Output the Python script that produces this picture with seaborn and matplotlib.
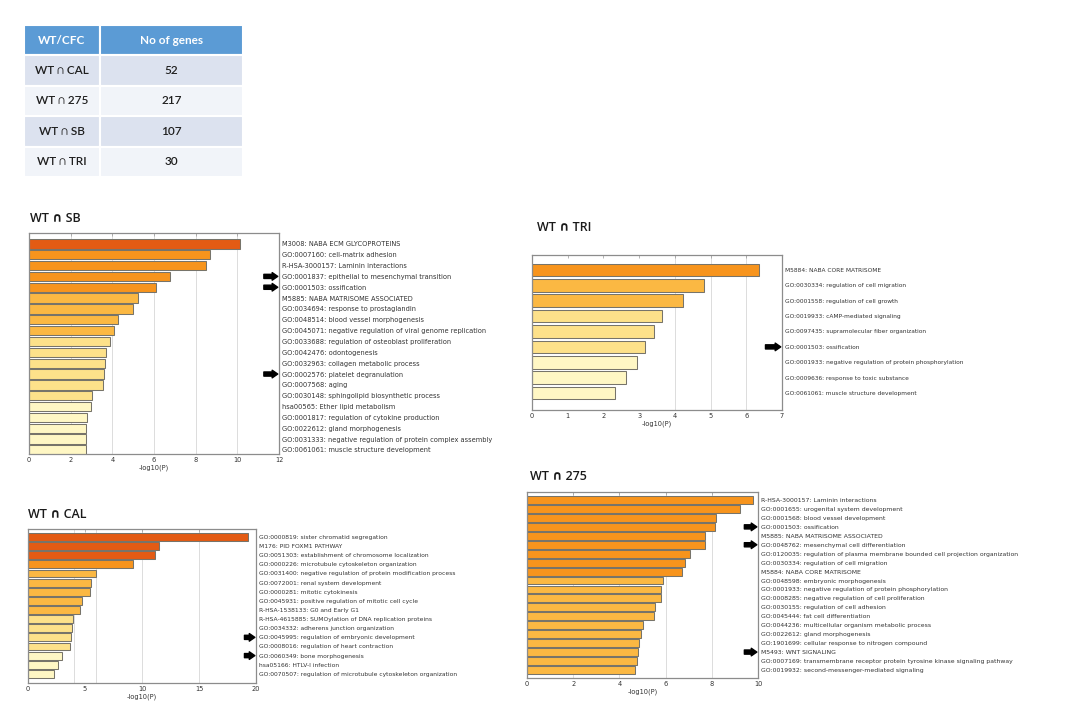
import matplotlib
matplotlib.use('Agg')
import matplotlib.pyplot as plt
import seaborn as sns
import pandas as pd

W, H = 1082, 702

# summary table
table_rows = ['WT ∩ CAL', 'WT ∩ 275', 'WT ∩ SB', 'WT ∩ TRI']
table_counts = [52, 217, 107, 30]

# WT ∩ SB enrichment
sb_terms = ['M3008: NABA ECM GLYCOPROTEINS',
            'GO:0007160: cell-matrix adhesion',
            'R-HSA-3000157: Laminin interactions',
            'GO:0001837: epithelial to mesenchymal transition',
            'GO:0001503: ossification',
            'M5885: NABA MATRISOME ASSOCIATED',
            'GO:0034694: response to prostaglandin',
            'GO:0048514: blood vessel morphogenesis',
            'GO:0045071: negative regulation of viral genome replication',
            'GO:0033688: regulation of osteoblast proliferation',
            'GO:0042476: odontogenesis',
            'GO:0032963: collagen metabolic process',
            'GO:0002576: platelet degranulation',
            'GO:0007568: aging',
            'GO:0030148: sphingolipid biosynthetic process',
            'hsa00565: Ether lipid metabolism',
            'GO:0001817: regulation of cytokine production',
            'GO:0022612: gland morphogenesis',
            'GO:0031333: negative regulation of protein complex assembly',
            'GO:0061061: muscle structure development']
sb_values = [10.14, 8.70, 8.48, 6.75, 6.11, 5.25, 5.00, 4.29, 4.06, 3.87,
             3.71, 3.63, 3.58, 3.55, 3.02, 2.97, 2.78, 2.72, 2.72, 2.72]
sb_marked = [3, 4, 12]

# WT ∩ TRI enrichment
tri_terms = ['M5884: NABA CORE MATRISOME',
             'GO:0030334: regulation of cell migration',
             'GO:0001558: regulation of cell growth',
             'GO:0019933: cAMP-mediated signaling',
             'GO:0097435: supramolecular fiber organization',
             'GO:0001503: ossification',
             'GO:0001933: negative regulation of protein phosphorylation',
             'GO:0009636: response to toxic substance',
             'GO:0061061: muscle structure development']
tri_values = [6.35, 4.82, 4.22, 3.65, 3.41, 3.17, 2.95, 2.64, 2.32]
tri_marked = [5]

# WT ∩ CAL enrichment
cal_terms = ['GO:0000819: sister chromatid segregation',
             'M176: PID FOXM1 PATHWAY',
             'GO:0051303: establishment of chromosome localization',
             'GO:0000226: microtubule cytoskeleton organization',
             'GO:0031400: negative regulation of protein modification process',
             'GO:0072001: renal system development',
             'GO:0000281: mitotic cytokinesis',
             'GO:0045931: positive regulation of mitotic cell cycle',
             'R-HSA-1538133: G0 and Early G1',
             'R-HSA-4615885: SUMOylation of DNA replication proteins',
             'GO:0034332: adherens junction organization',
             'GO:0045995: regulation of embryonic development',
             'GO:0008016: regulation of heart contraction',
             'GO:0060349: bone morphogenesis',
             'hsa05166: HTLV-I infection',
             'GO:0070507: regulation of microtubule cytoskeleton organization']
cal_values = [19.33, 11.52, 11.14, 9.21, 5.96, 5.53, 5.44, 4.77, 4.56, 3.92,
              3.83, 3.77, 3.71, 2.98, 2.60, 2.25]
cal_marked = [11, 13]

# WT ∩ 275 enrichment
t275_terms = ['R-HSA-3000157: Laminin interactions',
              'GO:0001655: urogenital system development',
              'GO:0001568: blood vessel development',
              'GO:0001503: ossification',
              'M5885: NABA MATRISOME ASSOCIATED',
              'GO:0048762: mesenchymal cell differentiation',
              'GO:0120035: regulation of plasma membrane bounded cell projection organization',
              'GO:0030334: regulation of cell migration',
              'M5884: NABA CORE MATRISOME',
              'GO:0048598: embryonic morphogenesis',
              'GO:0001933: negative regulation of protein phosphorylation',
              'GO:0008285: negative regulation of cell proliferation',
              'GO:0030155: regulation of cell adhesion',
              'GO:0045444: fat cell differentiation',
              'GO:0044236: multicellular organism metabolic process',
              'GO:0022612: gland morphogenesis',
              'GO:1901699: cellular response to nitrogen compound',
              'M5493: WNT SIGNALING',
              'GO:0007169: transmembrane receptor protein tyrosine kinase signaling pathway',
              'GO:0019932: second-messenger-mediated signaling']
t275_values = [9.78, 9.24, 8.17, 8.16, 7.71, 7.71, 7.04, 6.85, 6.69, 5.87,
               5.81, 5.81, 5.54, 5.48, 5.04, 4.92, 4.83, 4.80, 4.75, 4.66]
t275_marked = [3, 5, 17]


def bar_colour(v):
    if v >= 10:
        return '#E35B14'
    if v >= 6:
        return '#F7941D'
    if v >= 4:
        return '#FBB843'
    if v >= 3:
        return '#FDE18A'
    return '#FFF7C4'


sns.set_style('white')
plt.rcParams['font.family'] = ['DejaVu Sans']

fig = plt.figure(figsize=(W / 100, H / 100), dpi=100)
fig.patch.set_facecolor('white')


def px_axes(l, t, r, b):
    return fig.add_axes([l / W, 1 - b / H, (r - l) / W, (b - t) / H])


title_font = ['Open Sans', 'DejaVu Sans']

# ---- table ----
ax_t = px_axes(24, 25, 243, 177)
ax_t.axis('off')
cell_text = [[r, str(c)] for r, c in zip(table_rows, table_counts)]
row_cols = ['#DCE2EF', '#F1F4F9', '#DCE2EF', '#F1F4F9']
tbl = ax_t.table(cellText=cell_text, colLabels=['WT/CFC', 'No of genes'],
                 cellColours=[[c, c] for c in row_cols],
                 colColours=['#5B9BD5', '#5B9BD5'],
                 colWidths=[76 / 219, 143 / 219], bbox=[0, 0, 1, 1],
                 cellLoc='center')
tbl.auto_set_font_size(False)
for (r, c), cell in tbl.get_celld().items():
    cell.set_edgecolor('white')
    cell.set_linewidth(1.5)
    txt = cell.get_text()
    txt.set_fontsize(8.5)
    txt.set_family(['Lato', 'DejaVu Sans'])
    if r == 0:
        txt.set_color('white')
        txt.set_weight('bold')
    else:
        txt.set_color('#1f1f1f')
        txt.set_weight('semibold')
    if c == 0:
        cell._loc = 'left'
        cell.PAD = 0.12

# ---- enrichment panels ----
panels = [
    dict(title='WT ∩ SB', title_xy=(30, 218), box=(29, 233, 279, 454),
         terms=sb_terms, values=sb_values, marked=sb_marked,
         xlim=12, step=2, grid=[2, 4, 6, 8, 10], margins=(1.0, 0.37),
         bw=0.86, fs=4.8, arrow=10),
    dict(title='WT ∩ TRI', title_xy=(537, 228), box=(532, 255, 782, 410),
         terms=tri_terms, values=tri_values, marked=tri_marked,
         xlim=7, step=1, grid=[4, 5, 6], margins=(0.97, 1.1),
         bw=0.82, fs=4.25, arrow=11),
    dict(title='WT ∩ CAL', title_xy=(28, 515), box=(28, 529, 256, 683),
         terms=cal_terms, values=cal_values, marked=cal_marked,
         xlim=20, step=5, grid=[4, 6, 10, 15], margins=(0.87, 1.0),
         bw=0.86, fs=4.3, arrow=7.5),
    dict(title='WT ∩ 275', title_xy=(530, 477), box=(527, 492, 758, 678),
         terms=t275_terms, values=t275_values, marked=t275_marked,
         xlim=10, step=2, grid=[2, 4, 6, 8], margins=(0.9, 0.9),
         bw=0.88, fs=4.45, arrow=9),
]

for p in panels:
    ax = px_axes(*p['box'])
    df = pd.DataFrame({'term': p['terms'], 'logp': p['values']})
    pal = {t: bar_colour(v) for t, v in zip(p['terms'], p['values'])}
    for g in p['grid']:
        ax.axvline(g, color='#dcdcdc', lw=0.7, zorder=0)
    sns.barplot(data=df, x='logp', y='term', hue='term', palette=pal,
                legend=False, orient='h', width=p['bw'], saturation=1,
                edgecolor='#77746a', linewidth=0.75, ax=ax, zorder=2)
    n = len(p['terms'])
    ax.set_xlim(0, p['xlim'])
    ax.set_ylim(n - 1 + p['margins'][1], -p['margins'][0])
    ax.set_xticks(range(0, p['xlim'] + 1, p['step']))
    ax.yaxis.tick_right()
    ax.tick_params(axis='y', length=0, pad=2, labelsize=p['fs'],
                   labelcolor='#333333')
    ax.tick_params(axis='x', direction='in', top=True, length=2,
                   width=0.5, color='#999999', labelsize=4.8,
                   labelcolor='#333333', pad=2)
    ax.set_ylabel('')
    ax.set_xlabel('-log10(P)', fontsize=4.8, color='#333333', labelpad=1.5)
    for s in ax.spines.values():
        s.set_color('#8c8c8c')
        s.set_linewidth(0.9)
    for i in p['marked']:
        ax.annotate('', xy=(0.995, i), xycoords=('axes fraction', 'data'),
                    xytext=(-p['arrow'], 0), textcoords='offset points',
                    arrowprops=dict(arrowstyle='simple,head_length=0.4,'
                                    'head_width=0.55,tail_width=0.3',
                                    color='black', shrinkA=0, shrinkB=0,
                                    mutation_scale=10),
                    zorder=5, annotation_clip=False)
    fig.text(p['title_xy'][0] / W, 1 - p['title_xy'][1] / H, p['title'],
             fontsize=9, family=title_font, weight='semibold',
             color='#1a1a1a', ha='left', va='center')

fig.savefig('out.png', dpi=100, facecolor='white')
